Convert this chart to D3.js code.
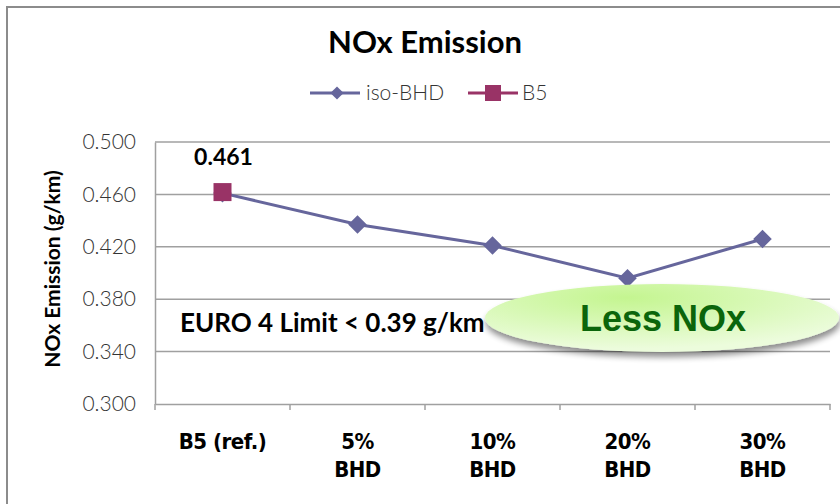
<!DOCTYPE html>
<html>
<head>
<meta charset="utf-8">
<script src="https://cdn.jsdelivr.net/npm/d3@7"></script>
<style>
  html, body { margin: 0; padding: 0; background: #fff; }
  svg { display: block; }
</style>
</head>
<body>
<svg id="chart" width="840" height="504"></svg>
<script>
// NOx emission per fuel blend
const categories = ["B5 (ref.)", "5%|BHD", "10%|BHD", "20%|BHD", "30%|BHD"];
const isoBHD = [0.461, 0.437, 0.421, 0.396, 0.426];
const b5 = [0.461, null, null, null, null];
const yTicks = [0.300, 0.340, 0.380, 0.420, 0.460, 0.500];
const b5Label = "0.461";

const svg = d3.select("#chart");
const lineColor = "#66669c", b5Color = "#993366", gridColor = "#a0a0a0";
const sans = "Lato, 'Open Sans', sans-serif";

// outer chart frame
svg.append("rect").attr("x", 7).attr("y", 7).attr("width", 850).attr("height", 520)
  .attr("fill", "#fff").attr("stroke", "#8c8c8c").attr("stroke-width", 2);

const plot = { left: 155, right: 830, top: 142, bottom: 404 };

const x = d3.scaleBand().domain(categories).range([plot.left, plot.right]);
const y = d3.scaleLinear().domain([0.3, 0.5]).range([plot.bottom, plot.top]);

// gridlines
svg.append("g").selectAll("line").data(yTicks.filter(d => d > 0.3)).join("line")
  .attr("x1", plot.left).attr("x2", plot.right)
  .attr("y1", d => y(d)).attr("y2", d => y(d))
  .attr("stroke", gridColor).attr("stroke-width", 1.5);

// y axis
const yAxis = svg.append("g").attr("transform", `translate(${plot.left},0)`)
  .call(d3.axisLeft(y).tickValues(yTicks).tickFormat(d3.format(".3f")).tickSize(0).tickPadding(19));
yAxis.select(".domain").attr("stroke", gridColor).attr("stroke-width", 1.5);
yAxis.selectAll("text").attr("font-family", sans)
  .attr("font-weight", 300).attr("font-size", 21).attr("fill", "#333");

// x axis
const xAxis = svg.append("g").attr("transform", `translate(0,${plot.bottom})`)
  .call(d3.axisBottom(x).tickSize(0).tickFormat(""));
xAxis.select(".domain").attr("stroke", gridColor).attr("stroke-width", 1.5);
const tickX = x.domain().map(d => x(d)).concat([plot.right]);
svg.append("g").selectAll("line").data(tickX).join("line")
  .attr("x1", d => d).attr("x2", d => d)
  .attr("y1", plot.bottom).attr("y2", plot.bottom + 6)
  .attr("stroke", gridColor).attr("stroke-width", 1.5);

// category labels (two lines)
const catG = svg.append("g");
categories.forEach(c => {
  const lines = c.split("|");
  const cxPos = x(c) + x.bandwidth() / 2;
  const t = catG.append("text")
    .attr("x", cxPos).attr("y", 449)
    .attr("text-anchor", "middle")
    .attr("font-family", "'DejaVu Sans Condensed', 'DejaVu Sans', sans-serif")
    .attr("font-weight", "bold").attr("font-size", 22).attr("letter-spacing", -0.5)
    .attr("fill", "#000");
  lines.forEach((l, i) => {
    t.append("tspan").attr("x", cxPos).attr("dy", i === 0 ? 0 : 28).text(l);
  });
});

// y axis title
svg.append("text")
  .attr("transform", `translate(60,269) rotate(-90)`)
  .attr("text-anchor", "middle")
  .attr("font-family", sans).attr("font-weight", "bold")
  .attr("font-size", 21).attr("fill", "#000")
  .text("NOx Emission (g/km)");

// title
svg.append("text").attr("x", 425).attr("y", 53).attr("text-anchor", "middle")
  .attr("font-family", sans).attr("font-weight", "bold")
  .attr("font-size", 31).attr("fill", "#000").text("NOx Emission");

// legend
const leg = svg.append("g");
leg.append("line").attr("x1", 310).attr("x2", 360).attr("y1", 93).attr("y2", 93)
  .attr("stroke", lineColor).attr("stroke-width", 3);
leg.append("path").attr("d", d3.symbol(d3.symbolDiamond2, 110)())
  .attr("transform", "translate(337,93)").attr("fill", lineColor);
leg.append("text").attr("x", 366).attr("y", 100)
  .attr("font-family", sans).attr("font-weight", 300)
  .attr("font-size", 21).attr("fill", "#333").text("iso-BHD");
leg.append("line").attr("x1", 468).attr("x2", 518).attr("y1", 93).attr("y2", 93)
  .attr("stroke", b5Color).attr("stroke-width", 3);
leg.append("rect").attr("x", 485).attr("y", 85).attr("width", 16).attr("height", 16)
  .attr("fill", b5Color);
leg.append("text").attr("x", 522).attr("y", 100)
  .attr("font-family", sans).attr("font-weight", 300)
  .attr("font-size", 21).attr("fill", "#333").text("B5");

// iso-BHD series
const cx = c => x(c) + x.bandwidth() / 2;
const line = d3.line().x((d, i) => cx(categories[i])).y(d => y(d));
svg.append("path").datum(isoBHD).attr("d", line)
  .attr("fill", "none").attr("stroke", lineColor).attr("stroke-width", 3);
svg.append("g").selectAll("path").data(isoBHD).join("path")
  .attr("d", d3.symbol(d3.symbolDiamond2, 220)())
  .attr("transform", (d, i) => `translate(${cx(categories[i])},${y(d)})`)
  .attr("fill", lineColor);

// B5 reference point
const b5Pts = b5.map((v, i) => ({ v, c: categories[i] })).filter(d => d.v != null);
svg.append("g").selectAll("rect").data(b5Pts).join("rect")
  .attr("x", d => cx(d.c) - 9).attr("y", d => y(d.v) - 10)
  .attr("width", 18).attr("height", 18).attr("fill", b5Color);
svg.append("text").attr("x", cx(categories[0]) + 1).attr("y", 165)
  .attr("text-anchor", "middle")
  .attr("font-family", sans).attr("font-weight", "bold")
  .attr("font-size", 23).attr("fill", "#000").text(b5Label);

// EURO 4 annotation
svg.append("text").attr("x", 180).attr("y", 332)
  .attr("font-family", sans).attr("font-weight", "bold")
  .attr("font-size", 26).attr("fill", "#000").text("EURO 4 Limit < 0.39 g/km");

// "Less NOx" callout
const defs = svg.append("defs");
const grad = defs.append("radialGradient").attr("id", "ellGrad")
  .attr("cx", "40%").attr("cy", "20%").attr("r", "75%");
grad.append("stop").attr("offset", "0%").attr("stop-color", "#c4f590");
grad.append("stop").attr("offset", "100%").attr("stop-color", "#ecfcdc");
const shadow = defs.append("filter").attr("id", "ellShadow")
  .attr("x", "-10%").attr("y", "-20%").attr("width", "125%").attr("height", "160%");
shadow.append("feGaussianBlur").attr("in", "SourceAlpha").attr("stdDeviation", 3);
shadow.append("feOffset").attr("dx", 1).attr("dy", 5).attr("result", "ob");
shadow.append("feComponentTransfer").append("feFuncA").attr("type", "linear").attr("slope", 0.45);
const merge = shadow.append("feMerge");
merge.append("feMergeNode");
merge.append("feMergeNode").attr("in", "SourceGraphic");

svg.append("ellipse").attr("cx", 662).attr("cy", 318).attr("rx", 177).attr("ry", 34)
  .attr("fill", "url(#ellGrad)").attr("filter", "url(#ellShadow)");
svg.append("text").attr("x", 663).attr("y", 331).attr("text-anchor", "middle")
  .attr("font-family", "'Liberation Sans', Arial, sans-serif").attr("font-weight", "bold")
  .attr("font-size", 36).attr("fill", "#0b650b").text("Less NOx");
</script>
</body>
</html>
